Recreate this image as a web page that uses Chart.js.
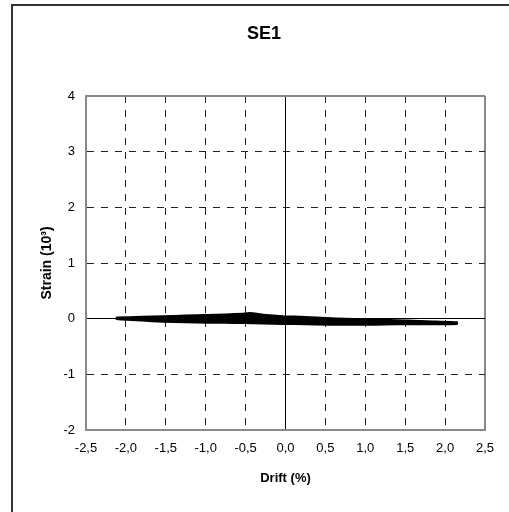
<!DOCTYPE html>
<html>
<head>
    <meta charset="utf-8">
    <title>SE1</title>
    <script src="https://cdn.jsdelivr.net/npm/chart.js@4.4.0/dist/chart.umd.min.js"></script>
    <style>
        html, body { margin: 0; padding: 0; background: #fff; overflow: hidden; }
        #chart-wrapper { position: relative; width: 509px; height: 512px; }
        canvas { display: block; }
    </style>
</head>
<body>
<div id="chart-wrapper">
    <canvas id="myChart" width="509" height="512"></canvas>
</div>
<script>

// hysteresis band, upper edge left -> right, lower edge right -> left
var drift_upper  = [-2.12, -1.8, -1.53, -1.25, -0.99, -0.75, -0.53, -0.44, -0.28, -0.03, 0.25, 0.52, 0.75, 0.97, 1.25, 1.52, 1.85, 2.15];
var strain_upper = [0.02, 0.035, 0.045, 0.055, 0.065, 0.075, 0.09, 0.10, 0.07, 0.045, 0.03, 0.01, 0.00, -0.01, -0.02, -0.035, -0.05, -0.065];
var drift_lower  = [2.15, 1.85, 1.52, 1.25, 0.97, 0.75, 0.52, 0.25, -0.03, -0.28, -0.53, -0.75, -0.99, -1.25, -1.53, -1.8, -2.12];
var strain_lower = [-0.095, -0.10, -0.10, -0.105, -0.11, -0.11, -0.11, -0.10, -0.095, -0.085, -0.08, -0.075, -0.075, -0.065, -0.055, -0.035, -0.005];

var x_ticks = [-2.5, -2.0, -1.5, -1.0, -0.5, 0.0, 0.5, 1.0, 1.5, 2.0, 2.5];
var y_ticks = [-2, -1, 0, 1, 2, 3, 4];

var loop = [];
for (var i = 0; i < drift_upper.length; i++) loop.push({x: drift_upper[i], y: strain_upper[i]});
for (var i = 0; i < drift_lower.length; i++) loop.push({x: drift_lower[i], y: strain_lower[i]});
loop.push({x: drift_upper[0], y: strain_upper[0]});

const FONT = "'Liberation Sans', Arial, sans-serif";

function grid_color(ctx, edge) {
    if (!ctx.tick) return '#000';
    if (ctx.tick.value === 0) return '#000';
    if (ctx.tick.value === edge) return '#888';
    return '#222';
}

// outer frame (only top and left edges are inside the picture) and title
const frame = {
    id: 'frame',
    afterDraw(chart) {
        const c = chart.ctx;
        c.save();
        c.strokeStyle = '#333';
        c.lineWidth = 2;
        c.beginPath();
        c.moveTo(12, chart.height);
        c.lineTo(12, 5);
        c.lineTo(chart.width, 5);
        c.stroke();
        c.fillStyle = '#000';
        c.font = 'bold 18px ' + FONT;
        c.textAlign = 'center';
        c.textBaseline = 'middle';
        c.fillText('SE1', 264, 34);
        c.restore();
    }
};

const ctx = document.getElementById('myChart').getContext('2d');
var myChart = new Chart(ctx, {
    type: 'line',
    data: {
        datasets: [{
            data: loop,
            borderColor: '#000',
            backgroundColor: '#000',
            borderWidth: 2,
            fill: 'shape',
            pointRadius: 0,
            tension: 0.1
        }]
    },
    options: {
        responsive: false,
        animation: false,
        layout: { padding: { top: 96, right: 24, left: 0, bottom: 0 } },
        plugins: {
            legend: { display: false },
            tooltip: { enabled: false },
            title: { display: false }
        },
        scales: {
            x: {
                type: 'linear',
                min: -2.5,
                max: 2.5,
                afterBuildTicks: (s) => { s.ticks = x_ticks.map(v => ({value: v})); },
                afterFit: (s) => { s.height = 82; },
                ticks: {
                    color: '#000',
                    font: { family: FONT, size: 13 },
                    padding: 11,
                    maxRotation: 0,
                    callback: (v) => v.toFixed(1).replace('.', ',')
                },
                grid: {
                    drawTicks: false,
                    color: (c) => grid_color(c, 2.5),
                    lineWidth: (c) => (c.tick && c.tick.value === 2.5) ? 2 : 1
                },
                border: {
                    display: true,
                    color: '#888',
                    width: 2,
                    dash: (c) => (c.tick && (c.tick.value === 0 || c.tick.value === 2.5)) ? [] : [7, 7]
                },
                title: {
                    display: true,
                    text: 'Drift (%)',
                    color: '#000',
                    font: { family: FONT, size: 13, weight: 'bold' },
                    padding: { top: 0, bottom: 26 }
                }
            },
            y: {
                min: -2,
                max: 4,
                afterBuildTicks: (s) => { s.ticks = y_ticks.map(v => ({value: v})); },
                afterFit: (s) => { s.width = 86; },
                ticks: {
                    color: '#000',
                    font: { family: FONT, size: 13 },
                    padding: 11
                },
                grid: {
                    drawTicks: false,
                    color: (c) => grid_color(c, 4),
                    lineWidth: (c) => (c.tick && c.tick.value === 4) ? 2 : 1
                },
                border: {
                    display: true,
                    color: '#888',
                    width: 2,
                    dash: (c) => (c.tick && (c.tick.value === 0 || c.tick.value === 4)) ? [] : [7, 7]
                },
                title: {
                    display: true,
                    text: 'Strain (10³)',
                    color: '#000',
                    font: { family: FONT, size: 14, weight: 'bold' },
                    padding: { top: 39, bottom: 0 }
                }
            }
        }
    },
    plugins: [frame]
});

</script>
</body>
</html>
